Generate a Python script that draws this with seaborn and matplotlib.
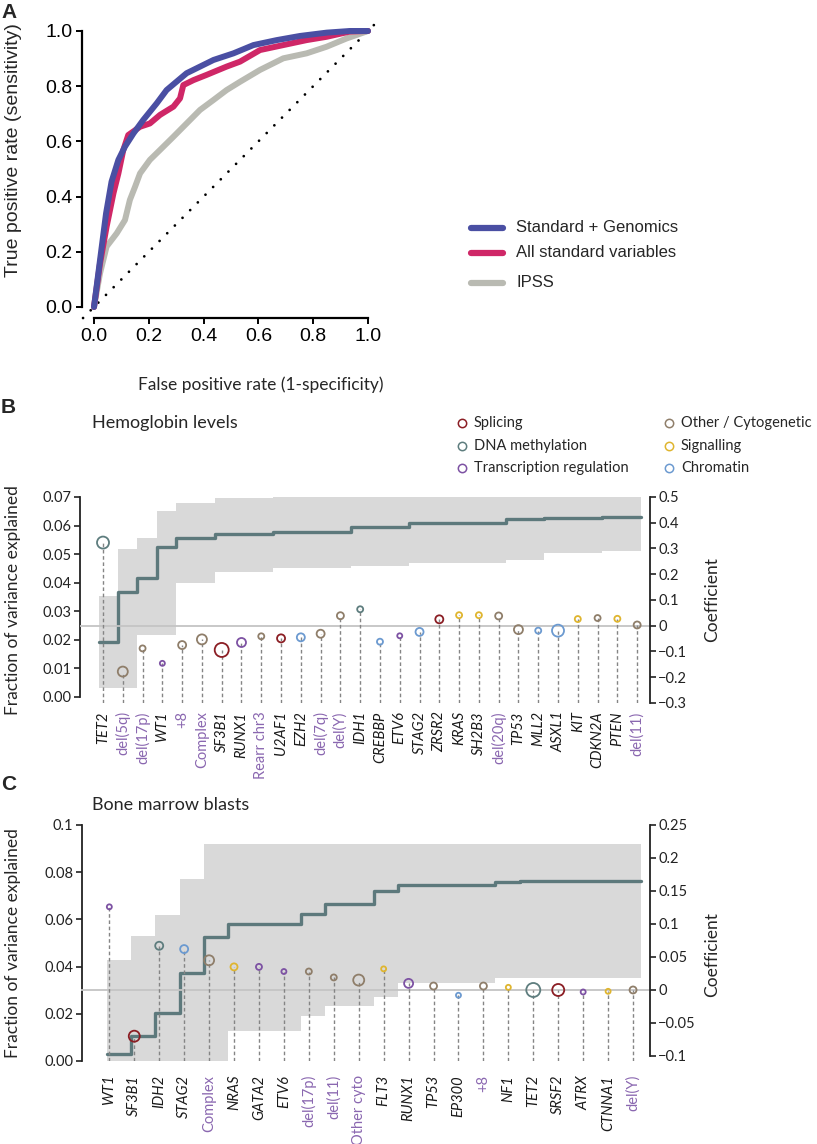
import numpy as np
import pandas as pd
import matplotlib
matplotlib.use("Agg")
import matplotlib.pyplot as plt
from matplotlib.lines import Line2D
import seaborn as sns

# ---------------- Panel A: ROC curves ----------------
roc_models = ['Standard + Genomics', 'All standard variables', 'IPSS']
fpr_genomics = [0, 0.022, 0.044, 0.064, 0.089, 0.113, 0.144, 0.180, 0.229, 0.265, 0.308,
                0.338, 0.387, 0.436, 0.509, 0.582, 0.667, 0.752, 0.849, 0.934, 1.0]
tpr_genomics = [0, 0.170, 0.339, 0.454, 0.533, 0.581, 0.629, 0.678, 0.738, 0.786, 0.822,
                0.847, 0.871, 0.895, 0.919, 0.949, 0.967, 0.982, 0.994, 1.0, 1.0]
fpr_standard = [0, 0.022, 0.046, 0.071, 0.089, 0.107, 0.125, 0.168, 0.204, 0.241, 0.290, 0.314,
                0.326, 0.363, 0.411, 0.484, 0.533, 0.606, 0.691, 0.776, 0.849, 0.934, 1.0]
tpr_standard = [0, 0.158, 0.291, 0.412, 0.484, 0.569, 0.623, 0.653, 0.665, 0.696, 0.726, 0.756,
                0.804, 0.822, 0.841, 0.871, 0.889, 0.931, 0.949, 0.967, 0.979, 0.998, 1.0]
fpr_ipss = [0, 0.022, 0.046, 0.083, 0.113, 0.131, 0.150, 0.168, 0.204, 0.241, 0.290,
            0.338, 0.387, 0.436, 0.484, 0.533, 0.606, 0.691, 0.776, 0.849, 0.922, 1.0]
tpr_ipss = [0, 0.122, 0.219, 0.267, 0.315, 0.388, 0.436, 0.484, 0.533, 0.569, 0.617,
            0.665, 0.714, 0.750, 0.786, 0.816, 0.859, 0.901, 0.919, 0.943, 0.973, 1.0]

# ---------------- Panel B: hemoglobin ----------------
hb_labels = ['TET2', 'del(5q)', 'del(17p)', 'WT1', '+8', 'Complex', 'SF3B1', 'RUNX1', 'Rearr chr3',
             'U2AF1', 'EZH2', 'del(7q)', 'del(Y)', 'IDH1', 'CREBBP', 'ETV6', 'STAG2', 'ZRSR2',
             'KRAS', 'SH2B3', 'del(20q)', 'TP53', 'MLL2', 'ASXL1', 'KIT', 'CDKN2A', 'PTEN', 'del(11)']
hb_group = ['D', 'O', 'O', 'T', 'O', 'O', 'S', 'T', 'O', 'S', 'C', 'O', 'O', 'D', 'C', 'T', 'C', 'S',
            'G', 'G', 'O', 'O', 'C', 'C', 'G', 'O', 'G', 'O']
hb_coef = [0.323, -0.178, -0.088, -0.146, -0.075, -0.053, -0.094, -0.065, -0.041, -0.049, -0.045,
           -0.031, 0.039, 0.064, -0.062, -0.039, -0.024, 0.025, 0.041, 0.041, 0.038, -0.015,
           -0.019, -0.019, 0.026, 0.030, 0.027, 0.003]
hb_radius = [6, 5, 3, 2.5, 4, 5, 7, 4.5, 3, 4, 4, 4, 3.5, 3, 3, 2.5, 4, 4, 3, 3, 3.5, 4.5, 3, 6,
             3, 3, 3, 3.5]
hb_cum = [0.0191, 0.0369, 0.0415, 0.0524, 0.0558, 0.0558, 0.0569, 0.0569, 0.0569, 0.0578, 0.0578,
          0.0578, 0.0578, 0.0594, 0.0594, 0.0594, 0.0608, 0.0608, 0.0608, 0.0608, 0.0608, 0.0623,
          0.0623, 0.0627, 0.0627, 0.0627, 0.0629, 0.0629]
hb_lower = [0.0030, 0.0030, 0.0217, 0.0217, 0.0398, 0.0398, 0.0439, 0.0439, 0.0439, 0.0450, 0.0450,
            0.0450, 0.0450, 0.0458, 0.0458, 0.0458, 0.0468, 0.0468, 0.0468, 0.0468, 0.0468, 0.0480,
            0.0480, 0.0503, 0.0503, 0.0503, 0.0512, 0.0512]
hb_upper = [0.0353, 0.0518, 0.0558, 0.0650, 0.0680, 0.0680, 0.0697, 0.0697, 0.0697, 0.0713, 0.0713,
            0.0713, 0.0713, 0.0722, 0.0722, 0.0722, 0.0727, 0.0727, 0.0727, 0.0727, 0.0727, 0.0740,
            0.0740, 0.0742, 0.0742, 0.0742, 0.0742, 0.0742]

# ---------------- Panel C: bone marrow blasts ----------------
bm_labels = ['WT1', 'SF3B1', 'IDH2', 'STAG2', 'Complex', 'NRAS', 'GATA2', 'ETV6', 'del(17p)',
             'del(11)', 'Other cyto', 'FLT3', 'RUNX1', 'TP53', 'EP300', '+8', 'NF1', 'TET2',
             'SRSF2', 'ATRX', 'CTNNA1', 'del(Y)']
bm_group = ['T', 'S', 'D', 'C', 'O', 'G', 'T', 'T', 'O', 'O', 'O', 'G', 'T', 'O', 'C', 'O', 'G',
            'D', 'S', 'T', 'G', 'O']
bm_coef = [0.126, -0.070, 0.067, 0.062, 0.045, 0.035, 0.035, 0.028, 0.028, 0.019, 0.015, 0.032,
           0.010, 0.006, -0.008, 0.006, 0.004, 0.0, 0.0, -0.003, -0.002, 0.0]
bm_radius = [2.5, 5.5, 4, 4, 5, 3.5, 3, 2.5, 3, 3, 5.5, 2.5, 4.5, 3.5, 2.5, 3.5, 2.5, 7, 6, 2.5,
             2.5, 3.5]
bm_cum = [0.0028, 0.0105, 0.0205, 0.0371, 0.0526, 0.0580, 0.0580, 0.0580, 0.0623, 0.0664, 0.0664,
          0.0722, 0.0744, 0.0744, 0.0744, 0.0744, 0.0758, 0.0762, 0.0762, 0.0762, 0.0762, 0.0762]
bm_lower = [0.0, 0.0, 0.0, 0.0, 0.0, 0.0128, 0.0128, 0.0128, 0.0190, 0.0235, 0.0235, 0.0272,
            0.0329, 0.0329, 0.0329, 0.0329, 0.0352, 0.0352, 0.0352, 0.0352, 0.0352, 0.0352]
bm_upper = [0.0428, 0.0530, 0.0619, 0.0771, 0.0920, 0.0920, 0.0920, 0.0920, 0.0920, 0.0920, 0.0920,
            0.0920, 0.0920, 0.0920, 0.0920, 0.0920, 0.0920, 0.0920, 0.0920, 0.0920, 0.0920, 0.0920]

# ---------------- style ----------------
group_names = {'S': 'Splicing', 'D': 'DNA methylation', 'T': 'Transcription regulation',
               'O': 'Other / Cytogenetic', 'G': 'Signalling', 'C': 'Chromatin'}
group_colors = {'S': '#8b1e24', 'D': '#5e7d7e', 'T': '#7d52a3',
                'O': '#8f7e6a', 'G': '#dfb52f', 'C': '#6c9ad0'}
roc_colors = {'Standard + Genomics': '#4a4fa3', 'All standard variables': '#cf2767', 'IPSS': '#b9bab2'}
BAND = '#d9d9d9'
STEP = '#5d797c'
CYTO = '#8a67b0'
HELV = ['Liberation Sans', 'DejaVu Sans']

sns.set_style('ticks')
plt.rcParams['font.family'] = ['Lato', 'DejaVu Sans']
plt.rcParams['axes.edgecolor'] = '#222222'

W, H = 817, 1144
fig = plt.figure(figsize=(W / 100, H / 100), dpi=100)


def fx(x):
    return x / W


def fy(y):
    return 1 - y / H


def rect(l, t, r, b):
    return [l / W, 1 - b / H, (r - l) / W, (b - t) / H]


# ---------------- Panel A ----------------
axA = fig.add_axes(rect(82, 25, 372, 318))
roc_df = pd.concat([
    pd.DataFrame({'fpr': fpr_ipss, 'tpr': tpr_ipss, 'model': 'IPSS'}),
    pd.DataFrame({'fpr': fpr_standard, 'tpr': tpr_standard, 'model': 'All standard variables'}),
    pd.DataFrame({'fpr': fpr_genomics, 'tpr': tpr_genomics, 'model': 'Standard + Genomics'}),
])
sns.lineplot(data=roc_df, x='fpr', y='tpr', hue='model',
             hue_order=['IPSS', 'All standard variables', 'Standard + Genomics'],
             palette=roc_colors, sort=False, estimator=None, lw=4.3, legend=False,
             solid_capstyle='round', solid_joinstyle='round', ax=axA)
axA.plot([-0.04, 1.03], [-0.04, 1.03], color='black', lw=2.0, ls=(0, (0.01, 3.9)),
         dash_capstyle='round', clip_on=False, zorder=0)
axA.set_xlim(-0.0438, 1.0146)
axA.set_ylim(-0.0399, 1.0217)
sns.despine(ax=axA)
axA.spines['left'].set_bounds(0, 1)
axA.spines['bottom'].set_bounds(0, 1)
for s in ['left', 'bottom']:
    axA.spines[s].set_linewidth(1.6)
    axA.spines[s].set_color('black')
ticksA = np.round(np.arange(0, 1.01, 0.2), 1)
axA.set_xticks(ticksA)
axA.set_yticks(ticksA)
axA.set_xticklabels([f'{t:.1f}' for t in ticksA], family=HELV, fontsize=14)
axA.set_yticklabels([f'{t:.1f}' for t in ticksA], family=HELV, fontsize=14)
axA.tick_params(length=4, width=1.4, pad=3, colors='black')
axA.set_xlabel('')
axA.set_ylabel('')
fig.text(fx(14), fy(150), 'True positive rate (sensitivity)', rotation=90, ha='center', va='center',
         family=HELV, fontsize=14)
fig.text(fx(138), fy(385), 'False positive rate (1-specificity)', ha='left', va='center', fontsize=12.5)

for name, yy in zip(roc_models, [228, 252.5, 282.5]):
    fig.add_artist(Line2D([fx(471), fx(503)], [fy(yy), fy(yy)], transform=fig.transFigure,
                          color=roc_colors[name], lw=4.5, solid_capstyle='round'))
    fig.text(fx(516), fy(yy), name, ha='left', va='center', family=HELV, fontsize=12)


# ---------------- Panels B and C ----------------
def is_cyto(lab):
    return lab.startswith('del') or lab.startswith('+') or lab in ('Complex', 'Rearr chr3', 'Other cyto')


def variance_panel(ax, labels, groups, coef, radius, cum, lower, upper, line_span, xlim,
                   left_lim, left_ticks, left_labels, left_bounds,
                   right_lim, right_ticks, right_labels, right_bounds, label_pad):
    n = len(labels)
    xs = np.arange(n)
    sx = np.linspace(line_span[0], line_span[1], n + 1)
    ax.fill_between(sx, np.append(lower, lower[-1]), np.append(upper, upper[-1]), step='post',
                    color=BAND, lw=0, zorder=1)
    ax.step(sx, np.append(cum, cum[-1]), where='post', color=STEP, lw=2.4, zorder=2)
    ax.set_xlim(*xlim)
    ax.set_ylim(*left_lim)
    for s in ['right', 'top', 'bottom']:
        ax.spines[s].set_visible(False)
    ax.spines['left'].set_bounds(*left_bounds)
    ax.spines['left'].set_linewidth(1.3)
    ax.set_yticks(left_ticks)
    ax.set_yticklabels(left_labels, fontsize=10.5)
    ax.tick_params(axis='y', length=4, width=1.2, pad=2, colors='#222222')
    ax.set_xticks(xs)
    ax.set_xticklabels(labels, rotation=90, fontsize=10.5)
    ax.tick_params(axis='x', length=0, pad=label_pad)
    for t, lab in zip(ax.get_xticklabels(), labels):
        if is_cyto(lab):
            t.set_color(CYTO)
        else:
            t.set_color('#1a1a1a')
            t.set_style('italic')

    ax2 = ax.twinx()
    ax2.set_ylim(*right_lim)
    ax2.axhline(0, color='#c4c4c4', lw=1.3, zorder=1)
    ax2.vlines(xs, right_lim[0], coef, colors='#858585', lw=1.0, linestyles=(0, (2.6, 1.9)), zorder=2)
    cols = [group_colors[g] for g in groups]
    ax2.scatter(xs, coef, s=(1.44 * np.array(radius)) ** 2, facecolors='none', edgecolors=cols,
                linewidths=1.3, zorder=3)
    for s in ['left', 'top', 'bottom']:
        ax2.spines[s].set_visible(False)
    ax2.spines['right'].set_bounds(*right_bounds)
    ax2.spines['right'].set_linewidth(1.3)
    ax2.set_yticks(right_ticks)
    ax2.set_yticklabels(right_labels, fontsize=10.5)
    ax2.tick_params(axis='y', length=4, width=1.2, pad=2, colors='#222222')
    ax2.grid(False)
    ax.grid(False)
    return ax2


axB = fig.add_axes(rect(80, 497, 650, 703))
variance_panel(axB, hb_labels, hb_group, hb_coef, hb_radius, hb_cum, hb_lower, hb_upper,
               line_span=(-0.217, 27.2), xlim=(-1.163, 27.65),
               left_lim=(-0.0021, 0.07), left_ticks=np.arange(0, 0.071, 0.01),
               left_labels=[f'{v:.2f}' for v in np.arange(0, 0.071, 0.01)], left_bounds=(0, 0.07),
               right_lim=(-0.3, 0.5), right_ticks=np.round(np.arange(-0.3, 0.51, 0.1), 1),
               right_labels=['\u22120.3', '\u22120.2', '\u22120.1', '0', '0.1', '0.2', '0.3', '0.4', '0.5'],
               right_bounds=(-0.3, 0.5), label_pad=6)

axC = fig.add_axes(rect(81.5, 825, 650, 1061))
variance_panel(axC, bm_labels, bm_group, bm_coef, bm_radius, bm_cum, bm_lower, bm_upper,
               line_span=(-0.108, 21.33), xlim=(-1.116, 21.68),
               left_lim=(0, 0.1), left_ticks=np.arange(0, 0.101, 0.02),
               left_labels=['0.00', '0.02', '0.04', '0.06', '0.08', '0.1'], left_bounds=(0, 0.1),
               right_lim=(-0.1076, 0.25), right_ticks=np.round(np.arange(-0.1, 0.251, 0.05), 2),
               right_labels=['\u22120.1', '\u22120.05', '0', '0.05', '0.1', '0.15', '0.2', '0.25'],
               right_bounds=(-0.1, 0.25), label_pad=10)

# titles, axis labels, panel letters
fig.text(fx(92), fy(423), 'Hemoglobin levels', ha='left', va='center', fontsize=13)
fig.text(fx(92), fy(805), 'Bone marrow blasts', ha='left', va='center', fontsize=13)
for yy in (600, 943):
    fig.text(fx(13), fy(yy), 'Fraction of variance explained', rotation=90, ha='center', va='center',
             fontsize=12.5)
for yy in (600, 955):
    fig.text(fx(712), fy(yy), 'Coefficient', rotation=90, ha='center', va='center', fontsize=12.5)
for letter, xx, yy in [('A', 1, 13), ('B', 1, 407), ('C', 1, 785)]:
    fig.text(fx(xx), fy(yy), letter, ha='left', va='center', family=HELV, fontsize=15, weight='bold')

# category legend for panel B
legend_order = ['S', 'D', 'T', 'O', 'G', 'C']
legend_pos = [(462, 423), (462, 446), (462, 468), (669, 423), (669, 446), (669, 468)]
for g, (cx, cy) in zip(legend_order, legend_pos):
    fig.add_artist(Line2D([fx(cx)], [fy(cy)], transform=fig.transFigure, marker='o', ls='',
                          ms=6, mfc='none', mec=group_colors[g], mew=1.1))
    fig.text(fx(cx + 12), fy(cy), group_names[g], ha='left', va='center', fontsize=10.5)

fig.savefig('out.png', dpi=100)
